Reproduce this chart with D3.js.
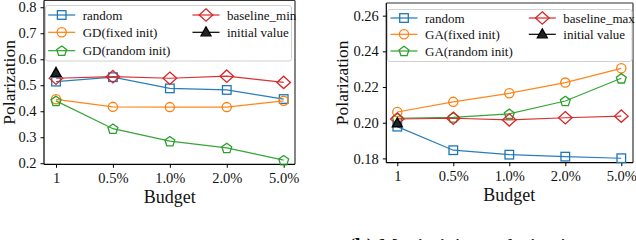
<!DOCTYPE html>
<html><head><meta charset="utf-8">
<script src="https://cdn.jsdelivr.net/npm/d3@7"></script>
<style>body{margin:0;background:#fff}svg{display:block}text{font-family:"Liberation Serif","Times New Roman",serif}</style>
</head><body><svg id="c" width="636" height="240"></svg>
<script>
const budgets = ["1","0.5%","1.0%","2.0%","5.0%"];
// left chart (minimizing)
const leftRandom = [0.514,0.531,0.488,0.482,0.447];
const leftFixed = [0.446,0.417,0.416,0.416,0.440];
const leftRandInit = [0.440,0.333,0.285,0.259,0.212];
const leftBaseline = [0.527,0.533,0.527,0.535,0.511];
const leftInitial = [0.548];
const leftTicks = [0.2,0.3,0.4,0.5,0.6,0.7,0.8];
// right chart (maximizing)
const rightRandom = [0.1978,0.1846,0.1821,0.1810,0.1801];
const rightFixed = [0.2060,0.2117,0.2165,0.2225,0.2305];
const rightRandInit = [0.2025,0.2030,0.2050,0.2122,0.2249];
const rightBaseline = [0.2021,0.2025,0.2016,0.2028,0.2037];
const rightInitial = [0.1997];
const rightTicks = [0.18,0.20,0.22,0.24,0.26];

const C = {blue:"#1f77b4",orange:"#ff7f0e",green:"#2ca02c",red:"#d62728",black:"#000"};
const svg = d3.select("#c");

function marker(g, type, x, y, color){
  let el;
  if(type==="square") el = g.append("rect").attr("x",x-4.3).attr("y",y-4.3).attr("width",8.6).attr("height",8.6);
  else if(type==="circle") el = g.append("circle").attr("cx",x).attr("cy",y).attr("r",4.6);
  else if(type==="diamond") el = g.append("path").attr("d",`M${x},${y-6.2}L${x+6.8},${y}L${x},${y+6.2}L${x-6.8},${y}Z`);
  else if(type==="pentagon"){
    const r=5.2, pts=d3.range(5).map(i=>{const a=-Math.PI/2+i*2*Math.PI/5;return [x+r*Math.cos(a), y+0.5+r*Math.sin(a)];});
    el = g.append("path").attr("d","M"+pts.map(p=>p.join(",")).join("L")+"Z");
  } else if(type==="triangle"){
    el = g.append("path").attr("d",`M${x},${y-5.5}L${x+5},${y+3.5}L${x-5},${y+3.5}Z`).attr("fill","#222");
  }
  el.attr("stroke",color).attr("stroke-width",1.3);
  if(type!=="triangle") el.attr("fill","none");
  return el;
}

function chart(cfg){
  const g = svg.append("g");
  const x = d3.scalePoint().domain(budgets).range([cfg.x0, cfg.x1]).padding(0);
  const y = d3.scaleLinear().domain(cfg.ydom).range([cfg.bottom, cfg.top]);
  // frame
  g.append("line").attr("x1",cfg.left).attr("x2",cfg.right).attr("y1",cfg.top).attr("y2",cfg.top).attr("stroke","#333").attr("stroke-width",1.2);
  g.append("line").attr("x1",cfg.right).attr("x2",cfg.right).attr("y1",cfg.top).attr("y2",cfg.bottom).attr("stroke","#666").attr("stroke-width",1.6);
  // axes
  const ya = d3.axisLeft(y).tickValues(cfg.ticks).tickFormat(cfg.fmt).tickSize(3.5).tickPadding(4);
  const yg = g.append("g").attr("transform",`translate(${cfg.left},0)`).call(ya);
  const xa = d3.axisBottom(x).tickSize(3.5).tickPadding(5);
  const xg = g.append("g").attr("transform",`translate(0,${cfg.bottom})`).call(xa);
  [yg,xg].forEach(a=>{a.select(".domain").attr("stroke","#000").attr("stroke-width",1.2);
    a.selectAll(".tick line").attr("stroke","#000").attr("stroke-width",1);
    a.selectAll("text").attr("font-size",14.5).attr("fill","#111").attr("font-family","Liberation Serif");});
  yg.select(".domain").attr("d",`M0,${cfg.bottom}V${cfg.top}`);
  xg.select(".domain").attr("d",`M${cfg.left},0H${cfg.right}`);
  // labels
  g.append("text").attr("transform",`translate(${cfg.ylx},${(cfg.top+cfg.bottom)/2}) rotate(-90)`).attr("text-anchor","middle").attr("font-size",17.5).attr("fill","#111").text("Polarization");
  g.append("text").attr("x",(cfg.x0+cfg.x1)/2).attr("y",cfg.bottom+38.5).attr("text-anchor","middle").attr("font-size",18).attr("fill","#111").text("Budget");
  // series
  const line = d3.line().x((d,i)=>x(budgets[i])).y(d=>y(d));
  cfg.series.forEach(s=>{
    g.append("path").datum(s.values).attr("d",line).attr("fill","none").attr("stroke",s.color).attr("stroke-width",1.2).attr("stroke-opacity",0.95);
    s.values.forEach((v,i)=>marker(g,s.type,x(budgets[i]),y(v),s.color));
  });
  // legend
  const L = cfg.legend;
  g.append("rect").attr("x",L.x).attr("y",L.y).attr("width",L.w).attr("height",L.h).attr("rx",2.5)
    .attr("fill","#fff").attr("fill-opacity",0.85).attr("stroke","#d0d0d0").attr("stroke-width",1);
  cfg.series.forEach((s,i)=>{
    const cx = L.cols[i], cy = L.rowY[L.rows[i]];
    g.append("line").attr("x1",cx-13.5).attr("x2",cx+13.5).attr("y1",cy).attr("y2",cy).attr("stroke",s.color).attr("stroke-width",1.2);
    marker(g,s.type,cx,cy,s.color);
    g.append("text").attr("x",cx+L.tdx).attr("y",cy+4.5).attr("font-size",13).attr("fill","#111").text(s.name);
  });
}

chart({left:44,right:295,top:0.5,bottom:164.3,x0:56,x1:283.7,ydom:[0.196,0.826],ticks:leftTicks,fmt:d3.format(".1f"),ylx:15,
  series:[
    {name:"random",values:leftRandom,color:C.blue,type:"square"},
    {name:"GD(fixed init)",values:leftFixed,color:C.orange,type:"circle"},
    {name:"GD(random init)",values:leftRandInit,color:C.green,type:"pentagon"},
    {name:"baseline_min",values:leftBaseline,color:C.red,type:"diamond"},
    {name:"initial value",values:leftInitial,color:C.black,type:"triangle"}],
  legend:{x:45.5,y:5.5,w:246,h:55.5,rowY:[15,32.3,50.7],cols:[61.7,61.7,61.7,206,206],rows:[0,1,2,0,1],tdx:21}
});
chart({left:386.3,right:633,top:3,bottom:162.7,x0:397.3,x1:621.3,ydom:[0.1776,0.2671],ticks:rightTicks,fmt:d3.format(".2f"),ylx:348,
  series:[
    {name:"random",values:rightRandom,color:C.blue,type:"square"},
    {name:"GA(fixed init)",values:rightFixed,color:C.orange,type:"circle"},
    {name:"GA(random init)",values:rightRandInit,color:C.green,type:"pentagon"},
    {name:"baseline_max",values:rightBaseline,color:C.red,type:"diamond"},
    {name:"initial value",values:rightInitial,color:C.black,type:"triangle"}],
  legend:{x:387.5,y:9.5,w:244.5,h:52,rowY:[18,34.3,51],cols:[404,404,404,542.3,542.3],rows:[0,1,2,0,1],tdx:21}
});
// partially visible caption (cut by the bottom edge in the reference)
const cap = svg.append("text").attr("x",348).attr("y",252.5).attr("font-size",21).attr("fill","#111");
cap.append("tspan").attr("font-weight","bold").text("(b)");
cap.append("tspan").text(" Maximizing polarization");
</script></body></html>
